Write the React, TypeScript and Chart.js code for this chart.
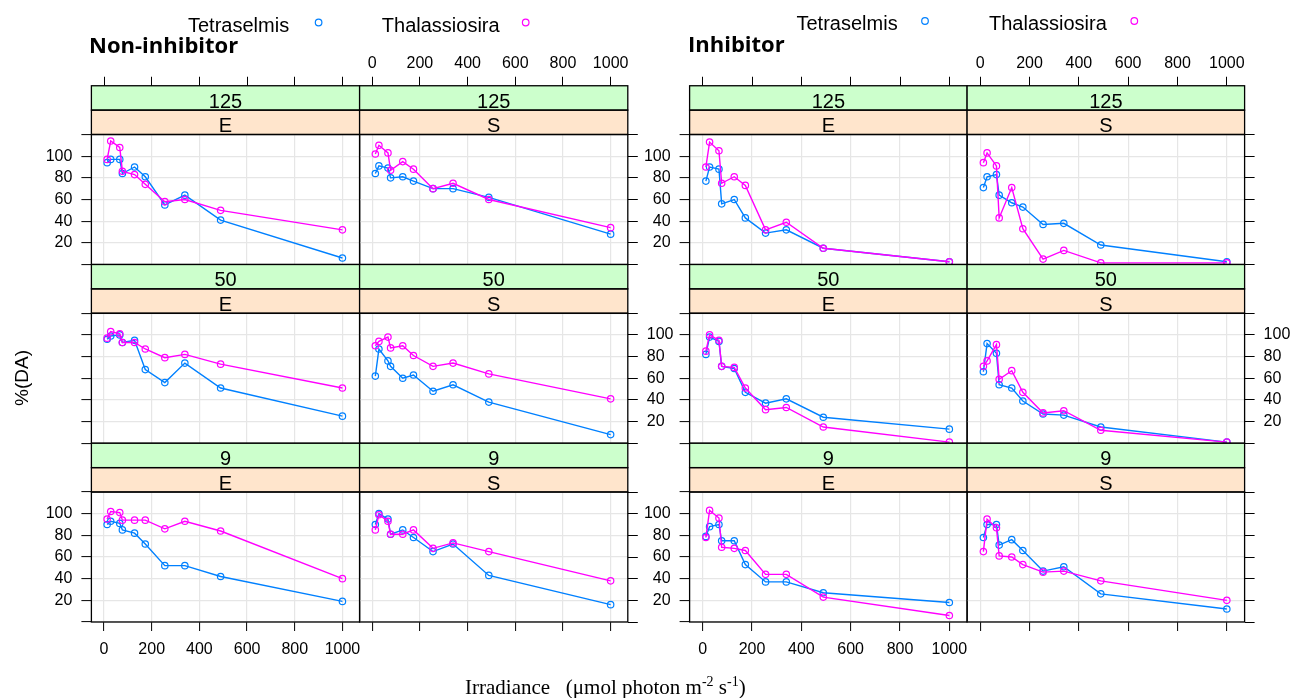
import React, { useEffect, useRef } from 'react';
import { Chart, registerables } from 'chart.js';

Chart.register(...registerables);

// ---------------- data ----------------
const IRRADIANCE = [13, 28, 66, 77, 128, 173, 255, 339, 489, 1000];
const X_TICKS = [0, 200, 400, 600, 800, 1000];
const Y_TICKS = [0, 20, 40, 60, 80, 100, 120];
const Y_LABELED = [20, 40, 60, 80, 100];
const LIGHT = ['125', '50', '9'];
const PHASE = ['E', 'S'];
const SPECIES = ['Tetraselmis', 'Thalassiosira'];
const TREATMENTS = ['Non-inhibitor', 'Inhibitor'];
const SPECIES_COLORS = ['#0080ff', '#ff00ff'];

// Non-inhibitor
const NI_125_E_TET = [94, 97, 97, 84, 90, 81, 55, 64, 41, 6];
const NI_125_E_THA = [97, 114, 108, 86, 83, 74, 58, 60, 50, 32];
const NI_125_S_TET = [84, 91, 89, 80, 81, 77, 70, 70, 62, 28];
const NI_125_S_THA = [102, 110, 103, 87, 95, 88, 70, 75, 60, 34];
const NI_50_E_TET = [96, 99, 100, 93, 95, 68, 56, 74, 51, 25];
const NI_50_E_THA = [97, 103, 101, 93, 93, 87, 79, 82, 73, 51];
const NI_50_S_TET = [62, 87, 76, 71, 60, 63, 48, 54, 38, 8];
const NI_50_S_THA = [90, 94, 98, 88, 90, 81, 71, 74, 64, 41];
const NI_9_E_TET = [90, 93, 91, 85, 82, 72, 52, 52, 42, 19];
const NI_9_E_THA = [95, 102, 101, 94, 94, 94, 86, 93, 84, 40];
const NI_9_S_TET = [90, 100, 95, 81, 85, 78, 65, 72, 43, 16];
const NI_9_S_THA = [85, 99, 93, 81, 81, 85, 68, 73, 65, 38];

// Inhibitor
const IN_125_E_TET = [77, 90, 88, 56, 60, 43, 29, 32, 15, 2.5];
const IN_125_E_THA = [90, 113, 105, 75, 81, 73, 32, 39, 15, 2.5];
const IN_125_S_TET = [71, 81, 83, 64, 57, 53, 37, 38, 18, 2.5];
const IN_125_S_THA = [94, 103, 91, 43, 71, 33, 5, 13, 1.5, 1.5];
const IN_50_E_TET = [82, 98, 94, 71, 69, 47, 37, 41, 24, 13];
const IN_50_E_THA = [85, 100, 95, 71, 70, 51, 31, 33, 15, 1];
const IN_50_S_TET = [66, 92, 83, 54, 51, 39, 27, 26, 15, 1];
const IN_50_S_THA = [71, 76, 91, 59, 67, 47, 28, 30, 12, 1];
const IN_9_E_TET = [79, 88, 90, 75, 75, 53, 37, 37, 27, 18];
const IN_9_E_THA = [78, 103, 96, 69, 68, 66, 44, 44, 23, 6];
const IN_9_S_TET = [78, 90, 90, 71, 76, 66, 47, 51, 26, 12];
const IN_9_S_THA = [65, 95, 87, 61, 60, 53, 46, 47, 38, 20];

// [treatment][row][col] -> [tetraselmis, thalassiosira]
const PANELS: number[][][][][] = [
  [
    [[NI_125_E_TET, NI_125_E_THA], [NI_125_S_TET, NI_125_S_THA]],
    [[NI_50_E_TET, NI_50_E_THA], [NI_50_S_TET, NI_50_S_THA]],
    [[NI_9_E_TET, NI_9_E_THA], [NI_9_S_TET, NI_9_S_THA]],
  ],
  [
    [[IN_125_E_TET, IN_125_E_THA], [IN_125_S_TET, IN_125_S_THA]],
    [[IN_50_E_TET, IN_50_E_THA], [IN_50_S_TET, IN_50_S_THA]],
    [[IN_9_E_TET, IN_9_E_THA], [IN_9_S_TET, IN_9_S_THA]],
  ],
];

// ---------------- layout ----------------
const FIG_X = [91.4, 689.6];
const PANEL_W = [268.2, 277.5];
const PLOT_TOP = [134.5, 313.25, 492];
const PLOT_H = 130;
const STRIP_H = 24.375;
const X_MIN = -53;
const X_MAX = 1072;
const Y_MIN = 0;
const Y_MAX = 120;
const FONT = "'Liberation Sans', Arial, sans-serif";
const GRID = '#e6e6e6';

Chart.defaults.font.family = FONT;
Chart.defaults.color = '#000';

const stripPlugin = {
  id: 'strips',
  afterDraw(chart: any, _args: any, opts: any) {
    const { ctx } = chart;
    const { left, right, top, bottom } = chart.chartArea;
    const h = opts.h;
    ctx.save();
    ctx.fillStyle = '#ccffcc';
    ctx.fillRect(left, top - 2 * h, right - left, h);
    ctx.fillStyle = '#ffe5cc';
    ctx.fillRect(left, top - h, right - left, h);
    ctx.strokeStyle = '#000';
    ctx.lineWidth = 1.3;
    ctx.strokeRect(left, top - 2 * h, right - left, h);
    ctx.strokeRect(left, top - h, right - left, h);
    ctx.strokeRect(left, top, right - left, bottom - top);
    ctx.fillStyle = '#000';
    ctx.font = `20px ${FONT}`;
    ctx.textAlign = 'center';
    ctx.textBaseline = 'alphabetic';
    const cx = (left + right) / 2;
    ctx.fillText(opts.top, cx, top - h - 2.5);
    ctx.fillText(opts.bottom, cx, top - 2.5);
    ctx.restore();
  },
};

function Panel({ t, r, c }: { t: number; r: number; c: number }) {
  const ref = useRef<HTMLCanvasElement | null>(null);
  const W = PANEL_W[t];
  const plotL = FIG_X[t] + c * W;
  const plotT = PLOT_TOP[r];
  const cl = Math.floor(plotL - 70);
  const ml = plotL - cl;
  const cw = Math.ceil(ml + W + 70);
  const mr = cw - ml - W;
  const ct = Math.floor(plotT - 130);
  const mt = plotT - ct;
  const ch = Math.ceil(mt + PLOT_H + 45);
  const mb = ch - mt - PLOT_H;

  useEffect(() => {
    if (!ref.current) return;
    const series = PANELS[t][r][c];
    const tickFont = { family: FONT, size: 16 };
    const xTicks = (s: any) => {
      s.ticks = X_TICKS.map((v) => ({ value: v }));
    };
    const yTicks = (s: any) => {
      s.ticks = Y_TICKS.map((v) => ({ value: v }));
    };
    const yLabel = (v: any) => (Y_LABELED.includes(Number(v)) ? String(v) : '');
    const chart = new Chart(ref.current, {
      type: 'line',
      data: {
        datasets: series.map((vals, i) => ({
          label: SPECIES[i],
          data: IRRADIANCE.map((x, k) => ({ x, y: vals[k] })),
          borderColor: SPECIES_COLORS[i],
          backgroundColor: 'rgba(0,0,0,0)',
          pointBorderColor: SPECIES_COLORS[i],
          pointBackgroundColor: 'rgba(0,0,0,0)',
          pointRadius: 3.2,
          pointBorderWidth: 1.2,
          borderWidth: 1.4,
          tension: 0,
          fill: false,
          clip: false as any,
          order: i === 0 ? 1 : 0,
          xAxisID: 'x',
          yAxisID: 'y',
        })),
      },
      plugins: [stripPlugin],
      options: {
        animation: false,
        responsive: false,
        maintainAspectRatio: false,
        events: [],
        layout: { padding: 0 },
        plugins: {
          legend: { display: false },
          title: { display: false },
          tooltip: { enabled: false },
          strips: { top: LIGHT[r], bottom: PHASE[c], h: STRIP_H },
        } as any,
        scales: {
          x: {
            type: 'linear',
            position: 'bottom',
            min: X_MIN,
            max: X_MAX,
            afterBuildTicks: xTicks,
            afterFit: (s: any) => {
              s.height = mb;
            },
            grid: {
              color: GRID,
              lineWidth: 1.2,
              drawTicks: r === 2,
              tickLength: 9,
              tickColor: '#000',
              tickWidth: 1,
            },
            border: { display: false },
            ticks: {
              display: r === 2 && c === 0,
              padding: 9,
              font: tickFont,
              color: '#000',
              maxRotation: 0,
              autoSkip: false,
              callback: (v: any) => String(v),
            },
          },
          x2: {
            type: 'linear',
            position: 'top',
            min: X_MIN,
            max: X_MAX,
            afterBuildTicks: xTicks,
            afterFit: (s: any) => {
              s.height = mt;
            },
            grid: {
              drawOnChartArea: false,
              drawTicks: r === 0,
              tickLength: 2 * STRIP_H + 9,
              tickColor: '#000',
              tickWidth: 1,
            },
            border: { display: false },
            ticks: {
              display: r === 0 && c === 1,
              padding: 4,
              font: tickFont,
              color: '#000',
              maxRotation: 0,
              autoSkip: false,
              callback: (v: any) => String(v),
            },
          },
          y: {
            type: 'linear',
            position: 'left',
            min: Y_MIN,
            max: Y_MAX,
            afterBuildTicks: yTicks,
            afterFit: (s: any) => {
              s.width = ml;
            },
            grid: {
              color: GRID,
              lineWidth: 1.2,
              drawTicks: c === 0,
              tickLength: 10,
              tickColor: '#000',
              tickWidth: 1,
            },
            border: { display: false },
            ticks: {
              display: c === 0 && r !== 1,
              padding: 9,
              font: tickFont,
              color: '#000',
              autoSkip: false,
              callback: yLabel,
            },
          },
          y2: {
            type: 'linear',
            position: 'right',
            min: Y_MIN,
            max: Y_MAX,
            afterBuildTicks: yTicks,
            afterFit: (s: any) => {
              s.width = mr;
            },
            grid: {
              drawOnChartArea: false,
              drawTicks: c === 1,
              tickLength: 10,
              tickColor: '#000',
              tickWidth: 1,
            },
            border: { display: false },
            ticks: {
              display: c === 1 && r === 1,
              padding: 9,
              font: tickFont,
              color: '#000',
              autoSkip: false,
              callback: yLabel,
            },
          },
        },
      } as any,
    });
    return () => chart.destroy();
  }, [t, r, c]);

  return (
    <canvas
      ref={ref}
      width={cw}
      height={ch}
      style={{ position: 'absolute', left: cl, top: ct, width: cw, height: ch }}
    />
  );
}

const LEGENDS = [
  { title: 'Non-inhibitor', tx: 89, ty: 53.3, items: [188, 381.8], circles: [318.6, 525.7], ly: 31.5, cy: 22.5 },
  { title: 'Inhibitor', tx: 688, ty: 51.7, items: [796.5, 989], circles: [925, 1134.3], ly: 30, cy: 21 },
];

export default function App() {
  const panels: React.ReactNode[] = [];
  for (let t = 0; t < 2; t++)
    for (let r = 0; r < 3; r++)
      for (let c = 0; c < 2; c++) panels.push(<Panel key={`${t}-${r}-${c}`} t={t} r={r} c={c} />);

  return (
    <div
      style={{
        position: 'fixed',
        left: 0,
        top: 0,
        width: 1292,
        height: 698,
        background: '#fff',
        overflow: 'hidden',
      }}
    >
      {panels}
      <svg
        width={1292}
        height={698}
        style={{ position: 'absolute', left: 0, top: 0, pointerEvents: 'none' }}
      >
        {LEGENDS.map((L, i) => (
          <g key={i}>
            <text x={L.tx} y={L.ty} fontFamily="'Open Sans', sans-serif" fontWeight={700} fontSize={22} fill="#000">
              {TREATMENTS[i]}
            </text>
            {SPECIES.map((s, k) => (
              <g key={s}>
                <text x={L.items[k]} y={L.ly} fontFamily={FONT} fontSize={20} fill="#000">
                  {s}
                </text>
                <circle cx={L.circles[k]} cy={L.cy} r={3.3} fill="none" stroke={SPECIES_COLORS[k]} strokeWidth={1.2} />
              </g>
            ))}
          </g>
        ))}
        <text
          transform="translate(27.5,378) rotate(-90)"
          textAnchor="middle"
          fontFamily={FONT}
          fontSize={19}
          fill="#000"
        >
          %(DA)
        </text>
        <text x={465} y={694} fontFamily="'Liberation Serif', 'Times New Roman', serif" fontSize={21} fill="#000">
          {'Irradiance\u00a0\u00a0\u00a0(\u03bcmol photon m'}
          <tspan dy={-8} fontSize={14}>-2</tspan>
          <tspan dy={8}>{'\u00a0s'}</tspan>
          <tspan dy={-8} fontSize={14}>-1</tspan>
          <tspan dy={8}>)</tspan>
        </text>
      </svg>
    </div>
  );
}
